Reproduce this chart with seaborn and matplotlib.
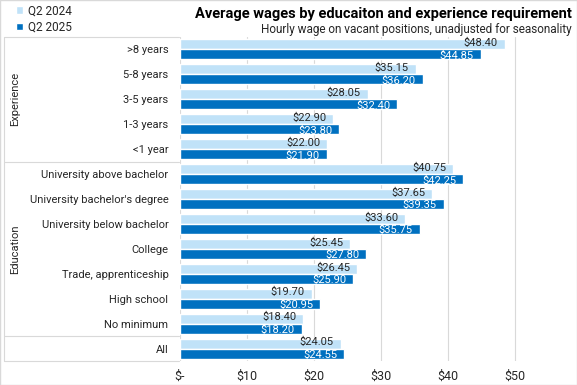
import pandas as pd
import matplotlib.pyplot as plt
import seaborn as sns
from matplotlib.lines import Line2D
from matplotlib.patches import Patch, Rectangle
from matplotlib.transforms import blended_transform_factory

# Categories (top to bottom) and the group each one belongs to
categories = ['>8 years', '5-8 years', '3-5 years', '1-3 years', '<1 year',
              'University above bachelor', "University bachelor's degree",
              'University below bachelor', 'College', 'Trade, apprenticeship',
              'High school', 'No minimum', 'All']
periods = ['Q2 2024', 'Q2 2025']

# Hourly wages
q2_2024 = [48.40, 35.15, 28.05, 22.90, 22.00,
           40.75, 37.65, 33.60, 25.45, 26.45, 19.70, 18.40, 24.05]
q2_2025 = [44.85, 36.20, 32.40, 23.80, 21.90,
           42.25, 39.35, 35.75, 27.80, 25.90, 20.95, 18.20, 24.55]

xticks = [0, 10, 20, 30, 40, 50]
xtick_labels = ['$-', '$10', '$20', '$30', '$40', '$50']

light = '#C0E2F8'
dark = '#0070C0'

df = pd.DataFrame({
    'category': categories * 2,
    'period': [periods[0]] * len(categories) + [periods[1]] * len(categories),
    'wage': q2_2024 + q2_2025,
})

sns.set_style('white')
plt.rcParams['font.family'] = ['Roboto', 'DejaVu Sans']

W, H = 577, 385
fig = plt.figure(figsize=(W / 100, H / 100), dpi=100)
ax = fig.add_axes([179.5 / W, 1 - 361 / H, (573 - 179.5) / W, (361 - 37) / H])

sns.barplot(data=df, y='category', x='wage', hue='period', orient='h',
            palette=[light, dark], order=categories, hue_order=periods,
            width=0.8, saturation=1, errorbar=None, legend=False, ax=ax)

ax.set_xlim(0, 58.6)
ax.set_xticks(xticks)
ax.set_xticklabels(xtick_labels, fontsize=9, color='#262626')
ax.tick_params(axis='x', length=0, pad=6)
ax.tick_params(axis='y', length=0, pad=8)
for lab in ax.get_yticklabels():
    lab.set_fontsize(8)
    lab.set_color('#262626')
ax.set_xlabel('')
ax.set_ylabel('')
ax.grid(axis='x', color='#D9D9D9', linewidth=0.8)
ax.set_axisbelow(True)
for s in ax.spines.values():
    s.set_visible(False)

# value labels, inside the end of each bar
for container, tcolor, dy in zip(ax.containers, ['#262626', 'white'], [1, -1]):
    for p in container:
        w = p.get_width()
        ax.annotate(f'${w:.2f}', xy=(w, p.get_y() + p.get_height() / 2),
                    xytext=(-5, dy), textcoords='offset points',
                    ha='right', va='center', fontsize=8, color=tcolor)

# multi-level category axis lines
tr = blended_transform_factory(fig.transFigure, ax.transData)
x0, x1 = 4 / W, 179 / W
for yb in [-0.5, 4.5, 11.5, 12.5]:
    fig.add_artist(Line2D([x0, x1], [yb, yb], transform=tr,
                          color='#D9D9D9', linewidth=0.8))
fig.add_artist(Line2D([x0, x0], [-0.5, 12.5], transform=tr,
                      color='#D9D9D9', linewidth=0.8))
for g, ymid in [('Experience', 2.0), ('Education', 8.0)]:
    fig.text(15 / W, ymid, g, transform=tr, rotation=90, ha='center', va='center',
             fontsize=8, color='#262626')

# title and subtitle
fig.text(572 / W, 1 - 14 / H, 'Average wages by educaiton and experience requirement',
         ha='right', va='center', fontsize=10.5, fontweight='bold', color='black')
fig.text(572 / W, 1 - 29 / H, 'Hourly wage on vacant positions, unadjusted for seasonality',
         ha='right', va='center', fontsize=8.5, color='#262626')

handles = [Patch(facecolor=light), Patch(facecolor=dark)]
fig.legend(handles, periods, loc='upper left', bbox_to_anchor=(14 / W, 1 - 2 / H),
           frameon=False, fontsize=8.5, handlelength=0.6, handleheight=0.6,
           handletextpad=0.4, labelspacing=0.3, borderaxespad=0, borderpad=0.2)

fig.add_artist(Rectangle((0, 0), 1, 1, transform=fig.transFigure, fill=False,
                         edgecolor='#D9D9D9', linewidth=1))

fig.savefig('out.png', dpi=100)
